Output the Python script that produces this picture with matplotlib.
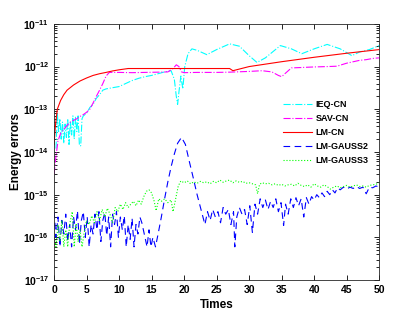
import numpy as np
import matplotlib
matplotlib.use("Agg")
import matplotlib.pyplot as plt
from matplotlib.ticker import FixedLocator, FuncFormatter, NullFormatter

plt.rcParams['font.family'] = 'Liberation Sans'
plt.rcParams['font.weight'] = 'bold'
plt.rcParams['mathtext.fontset'] = 'custom'
plt.rcParams['mathtext.rm'] = 'Liberation Sans:bold'
plt.rcParams['mathtext.bf'] = 'Liberation Sans:bold'

# LM-CN (red, solid)
t_cn = [0, 0.2, 0.5, 1, 1.5, 2, 3, 4, 5, 6, 7, 8, 9, 10, 11.4,
        27, 27.5, 30, 35, 40, 45, 50]
e_cn = [1.5e-14, 4e-14, 1e-13, 1.6e-13, 2.2e-13, 2.8e-13, 3.7e-13, 4.6e-13, 5.4e-13, 6.2e-13,
        6.8e-13, 7.3e-13, 7.9e-13, 8.4e-13, 9e-13,
        9e-13, 8.0e-13, 1.0e-12, 1.3e-12, 1.65e-12, 2.05e-12, 2.5e-12]

# SAV-CN (magenta, dash-dot)
t_sav = [0, 0.3, 0.6, 1, 1.5, 2, 2.5, 3, 3.5, 4,
         4.5, 5, 5.5, 6, 6.5, 7, 7.5, 8, 8.5, 10,
         12, 14, 16, 17.5, 18.3, 18.8, 19.2, 19.6, 20, 22,
         25, 27, 28, 30, 32, 33.5, 34.5, 35, 35.5, 36.5,
         38, 40, 42, 43.5, 45, 47, 48, 49, 50]
e_sav = [3e-15, 8e-15, 1.8e-14, 2.7e-14, 3.4e-14, 4.2e-14, 5e-14, 5.5e-14, 6e-14, 6.8e-14,
         7.5e-14, 8.5e-14, 1.0e-13, 1.4e-13, 2e-13, 2.8e-13, 4e-13, 6e-13, 7.3e-13, 7.3e-13,
         7.2e-13, 7.3e-13, 7.4e-13, 7.5e-13, 9e-13, 1.1e-12, 1.0e-12, 7.5e-13, 7.2e-13, 7.3e-13,
         7.3e-13, 7.4e-13, 7.5e-13, 7.7e-13, 8e-13, 7.5e-13, 6.2e-13, 5.8e-13, 6.8e-13, 9.3e-13,
         9.5e-13, 9.8e-13, 1.0e-12, 1.02e-12, 1.2e-12, 1.4e-12, 1.45e-12, 1.55e-12, 1.6e-12]

# IEQ-CN (cyan, dash-dot)
t_ieq = [0.3, 0.5, 0.7, 0.9, 1.1, 1.3, 1.5, 1.7, 1.9, 2.1,
         2.3, 2.5, 2.7, 2.9, 3.1, 3.3, 3.5, 3.7, 3.9, 4.1,
         4.3, 4.5, 5, 5.5, 6, 6.5, 7, 7.5, 8, 9,
         10, 11, 12, 13, 14, 15, 16, 17, 18, 18.5,
         18.8, 19.0, 19.2, 19.5, 19.8, 20.1, 20.6, 21.2, 22, 23.5,
         25, 27, 28.5, 30, 31.2, 32.5, 34.8, 36.5, 38.1, 40,
         42, 44, 45.8, 47, 48.5, 50]
e_ieq = [1.2e-14, 8e-14, 3e-14, 6e-14, 2e-14, 5e-14, 1.6e-14, 4.5e-14, 2.2e-14, 6e-14,
         1.5e-14, 5e-14, 2.5e-14, 7e-14, 2e-14, 6.5e-14, 3e-14, 7e-14, 1.4e-14, 1.4e-14,
         6e-14, 7e-14, 8e-14, 1.1e-13, 1.3e-13, 1.8e-13, 2.2e-13, 2.8e-13, 3.0e-13, 3.2e-13,
         3.4e-13, 4e-13, 4.7e-13, 5.3e-13, 5.8e-13, 6.2e-13, 6.8e-13, 7.5e-13, 8e-13, 5e-13,
         2e-13, 1.3e-13, 2.5e-13, 6e-13, 3e-13, 1e-12, 2e-12, 2.6e-12, 2.4e-12, 1.9e-12,
         2.5e-12, 3.4e-12, 3.0e-12, 1.8e-12, 1.25e-12, 1.6e-12, 3.1e-12, 2.6e-12, 2e-12, 2.6e-12,
         3.3e-12, 2.6e-12, 1.8e-12, 2.2e-12, 2.5e-12, 3.1e-12]

# LM-GAUSS2 (blue, dashed)
t_g2 = [0, 0.3, 0.6, 0.9, 1.2, 1.5, 1.8, 2.1, 2.4, 2.7,
        3.0, 3.3, 3.6, 3.9, 4.2, 4.5, 4.8, 5.1, 5.4, 5.7,
        6.0, 6.3, 6.6, 6.9, 7.2, 7.5, 7.8, 8.1, 8.4, 8.7,
        9.0, 9.3, 9.6, 9.9, 10.2, 10.5, 10.8, 11.1, 11.4, 11.7,
        12.0, 12.3, 12.6, 12.9, 13.2, 13.5, 14.3, 14.6, 14.9, 15.2,
        15.6, 16.0, 16.5, 17.0, 17.5, 18.0, 18.5, 19.0, 19.6, 20.2,
        20.8, 21.4, 22.0, 22.6, 23.2, 23.6, 24.0, 24.4, 24.8, 25.2,
        25.6, 26.0, 26.4, 26.8, 27.2, 27.6, 27.8, 28.1, 28.5, 28.9,
        29.3, 29.7, 30.1, 30.5, 30.9, 31.3, 31.7, 32.1, 32.5, 32.9,
        33.3, 33.7, 34.1, 34.5, 34.9, 35.3, 35.6, 36.0, 36.4, 36.8,
        37.2, 37.6, 38.0, 38.4, 38.8, 39.2, 39.6, 40.0, 40.4, 40.8,
        41.2, 41.6, 42.0, 42.4, 42.8, 43.2, 43.6, 44.0, 44.5, 45.0,
        45.5, 46.0, 46.5, 47.0, 47.5, 48.0, 48.5, 49.0, 49.5, 50.0]
e_g2 = [4e-16, 1e-16, 3e-16, 6e-17, 2.5e-16, 1.2e-16, 3.5e-16, 8e-17, 2e-16, 6e-17,
        3e-16, 1.5e-16, 4.2e-16, 7e-17, 2.5e-16, 4e-16, 1e-16, 3e-16, 6e-17, 2e-16,
        1.2e-16, 3.5e-16, 1.5e-16, 4e-16, 8e-17, 2.5e-16, 3.8e-16, 1.1e-16, 3e-16, 6e-17,
        3.5e-16, 2e-16, 4e-16, 1e-16, 3e-16, 1.5e-16, 3.2e-16, 6e-17, 2e-16, 9e-17,
        2.8e-16, 6e-17, 2e-16, 1.2e-16, 3e-16, 2.2e-16, 6e-17, 1.5e-16, 6e-17, 1e-16,
        6e-17, 1.2e-16, 3e-16, 8e-16, 2e-15, 4.5e-15, 9e-15, 1.6e-14, 2.2e-14, 1.5e-14,
        6e-15, 2.5e-15, 1e-15, 4.5e-16, 2e-16, 4e-16, 2.5e-16, 4.5e-16, 3e-16, 4e-16,
        2.2e-16, 5e-16, 3.5e-16, 4.5e-16, 2e-16, 4e-16, 6e-17, 3e-16, 5e-16, 3.5e-16,
        4.5e-16, 2e-16, 5.5e-16, 1.3e-16, 6e-16, 3.5e-16, 8e-16, 5e-16, 7.5e-16, 4.5e-16,
        7e-16, 5e-16, 8e-16, 4e-16, 6.5e-16, 1.9e-16, 6e-16, 3.5e-16, 8e-16, 5e-16,
        8.5e-16, 5.5e-16, 8e-16, 3e-16, 8.5e-16, 6e-16, 9e-16, 7.5e-16, 1e-15, 8.5e-16,
        1.1e-15, 9e-16, 1.2e-15, 1e-15, 1.3e-15, 1.1e-15, 1.45e-15, 1.3e-15, 1.5e-15, 1.35e-15,
        1.5e-15, 1.4e-15, 1.55e-15, 1.4e-15, 1.5e-15, 1.05e-15, 1.5e-15, 1.45e-15, 1.6e-15, 1.5e-15]

# LM-GAUSS3 (green, dotted)
t_g3 = [0, 0.3, 0.6, 0.9, 1.2, 1.5, 1.8, 2.1, 2.4, 2.8,
        3.1, 3.4, 3.7, 4.0, 4.3, 4.6, 5.0, 5.4, 5.8, 6.2,
        6.6, 7.0, 7.4, 7.8, 8.2, 8.6, 9.0, 9.4, 9.8, 10.2,
        10.6, 11.0, 11.4, 11.8, 12.2, 12.6, 13.0, 13.4, 13.8, 14.2,
        14.6, 15.0, 15.4, 15.7, 16.1, 16.5, 17.0, 17.5, 18.0, 18.3,
        18.7, 19.1, 19.5, 20.0, 20.5, 21.0, 21.5, 22.0, 22.5, 23.0,
        23.5, 24.0, 24.5, 25.0, 25.5, 26.0, 26.5, 27.0, 27.5, 28.0,
        28.5, 29.0, 29.5, 30.0, 30.5, 31.0, 31.3, 31.6, 32.0, 32.5,
        33.0, 33.5, 34.0, 34.5, 35.0, 35.5, 36.0, 36.5, 37.0, 37.5,
        38.0, 38.5, 39.0, 39.5, 40.0, 40.5, 41.0, 41.5, 42.0, 42.5,
        43.0, 43.5, 44.0, 44.5, 45.0, 45.5, 46.0, 46.5, 47.0, 47.5,
        48.0, 48.5, 49.0, 49.5, 50.0]
e_g3 = [1e-16, 6e-17, 2e-16, 8e-17, 2.5e-16, 6e-17, 1.5e-16, 6e-17, 2e-16, 4e-16,
        6e-17, 2e-16, 8e-17, 1.5e-16, 6e-17, 1.2e-16, 2.5e-16, 2e-16, 3.2e-16, 2.2e-16,
        4e-16, 2.5e-16, 4.5e-16, 3e-16, 4.8e-16, 3.5e-16, 2.2e-16, 5e-16, 4e-16, 6e-16,
        4.5e-16, 6.5e-16, 5e-16, 6e-16, 7e-16, 5.5e-16, 7.5e-16, 6e-16, 9e-16, 1.2e-15,
        1.3e-15, 1.1e-15, 7e-16, 4.2e-16, 8e-16, 7e-16, 8e-16, 6.5e-16, 7.5e-16, 4e-16,
        8e-16, 1.6e-15, 2.1e-15, 1.9e-15, 2.1e-15, 1.8e-15, 2e-15, 1.85e-15, 2.05e-15, 1.9e-15,
        2e-15, 1.8e-15, 2.05e-15, 1.9e-15, 2.2e-15, 1.95e-15, 2.1e-15, 2.2e-15, 1.9e-15, 2.1e-15,
        1.95e-15, 2.05e-15, 1.85e-15, 1.9e-15, 1.8e-15, 1.7e-15, 1.05e-15, 1.75e-15, 1.9e-15, 1.8e-15,
        1.85e-15, 1.7e-15, 1.8e-15, 1.65e-15, 1.75e-15, 1.6e-15, 1.7e-15, 1.75e-15, 1.6e-15, 1.85e-15,
        1.65e-15, 1.55e-15, 1.7e-15, 1.5e-15, 1.8e-15, 1.6e-15, 1.5e-15, 1.7e-15, 1.55e-15, 1.35e-15,
        1.5e-15, 1.6e-15, 1.45e-15, 1.55e-15, 1.65e-15, 1.5e-15, 1.6e-15, 1.7e-15, 1.55e-15, 1.6e-15,
        1.5e-15, 1.65e-15, 1.7e-15, 1.75e-15, 1.9e-15]

x_ticks = [0, 5, 10, 15, 20, 25, 30, 35, 40, 45, 50]
y_exps = [-17, -16, -15, -14, -13, -12, -11]

fig = plt.figure(figsize=(4.19, 3.14), dpi=100)
ax = fig.add_axes([0.129, 0.108, 0.776, 0.816])

lw = 0.8
ax.semilogy(t_ieq, e_ieq, color='#00ffff', ls='-.', lw=lw, label='IEQ-CN')
ax.semilogy(t_sav, e_sav, color='#ff00ff', ls='-.', lw=lw, label='SAV-CN')
ax.semilogy(t_cn, e_cn, color='#ff0000', ls='-', lw=lw, label='LM-CN')
ax.semilogy(t_g2, e_g2, color='#0000ff', ls=(0, (6, 4)), lw=lw, label='LM-GAUSS2')
ax.semilogy(t_g3, e_g3, color='#00ff00', ls=':', lw=lw, label='LM-GAUSS3')

ax.set_xlim(0, 50)
ax.set_ylim(1e-17, 1e-11)
ax.xaxis.set_major_locator(FixedLocator(x_ticks))
ax.yaxis.set_major_locator(FixedLocator([10.0 ** e for e in y_exps]))
minors = [m * 10.0 ** e for e in y_exps[:-1] for m in range(2, 10)]
ax.yaxis.set_minor_locator(FixedLocator(minors))
ax.yaxis.set_minor_formatter(NullFormatter())
ax.yaxis.set_major_formatter(FuncFormatter(lambda v, p: r'$\mathbf{10^{%d}}$' % round(np.log10(v))))
ax.tick_params(which='both', direction='in', top=True, right=True, labelsize=7.5, width=0.6)
ax.tick_params(which='major', length=3.5)
ax.tick_params(which='minor', length=2)
for sp in ax.spines.values():
    sp.set_linewidth(0.6)
    sp.set_color('#262626')

ax.set_xlabel('Times', fontsize=8.5, fontweight='bold', labelpad=3)
ax.set_ylabel('Energy errors', fontsize=8.5, fontweight='bold', labelpad=1)

ax.legend(loc='upper left', bbox_to_anchor=(0.685, 0.727), frameon=False, fontsize=6.5,
          handlelength=3.2, handletextpad=0.4, labelspacing=0.55, borderpad=0.2)

fig.savefig('out.png', dpi=100)
